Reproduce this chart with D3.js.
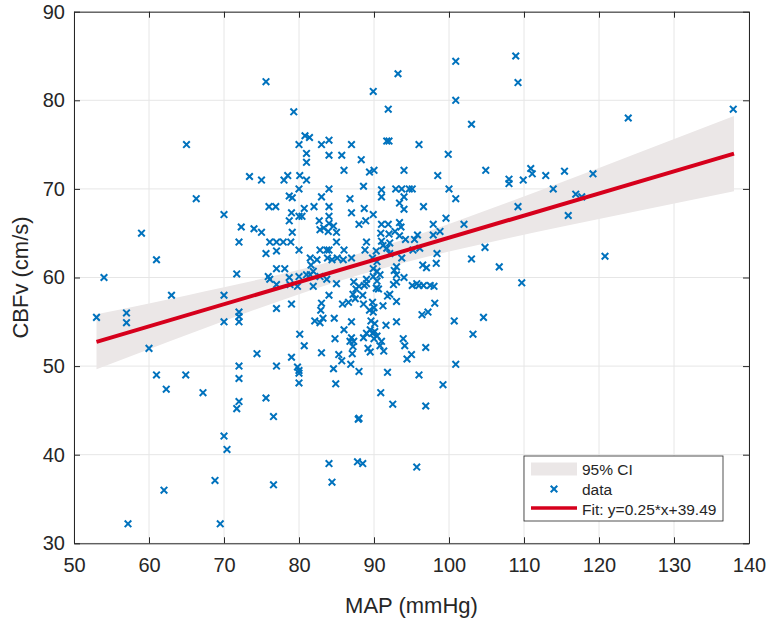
<!DOCTYPE html>
<html><head><meta charset="utf-8">
<script src="https://cdn.jsdelivr.net/npm/d3@7"></script>
<style>
body{margin:0;background:#fff;}
text{font-family:"Liberation Sans",Arial,Helvetica,sans-serif;fill:#262626;}
</style>
</head><body>
<svg id="chart" width="771" height="626"></svg>
<script>
// ---------- data ----------
const mapValues = [
100.9,93.2,108.9,75.6,89.9,100.9,79.3,91.9,103.0,80.8,81.4,80.0,83.0,84.0,87.0,91.7,92.0,96.0,81.0,81.0,
84.0,85.7,88.3,99.9,73.4,75.0,78.0,78.5,80.1,81.0,86.0,89.4,90.0,94.0,98.5,104.9,80.0,84.0,88.6,91.0,
91.0,92.9,93.7,94.7,95.1,100.0,78.7,79.1,83.0,86.8,94.0,100.9,76.0,76.9,80.7,82.0,84.0,88.7,93.4,94.0,
96.6,70.0,79.0,80.0,80.4,84.0,87.0,89.9,99.6,65.0,66.3,109.2,123.9,137.9,108.0,108.0,109.9,110.9,111.1,112.9,
113.9,115.4,116.9,117.7,119.2,78.7,82.7,84.0,88.0,88.9,91.0,91.9,93.4,93.6,97.9,102.0,72.3,74.0,75.0,79.1,
82.8,83.3,83.9,84.6,85.0,90.9,92.0,92.8,93.4,94.2,95.4,95.8,97.9,98.8,72.0,76.1,77.0,77.9,78.9,85.0,
89.0,91.0,91.2,92.1,91.7,104.8,75.6,77.0,80.0,82.8,83.7,84.0,86.0,88.8,90.3,92.1,95.2,96.1,98.4,81.5,
82.4,83.8,84.4,85.1,85.9,87.0,89.8,90.4,93.7,98.3,103.0,81.6,77.0,78.1,93.0,96.5,97.0,106.7,71.7,81.9,
81.5,89.9,90.4,90.8,92.7,93.0,75.9,76.1,78.7,80.0,81.0,82.8,83.7,89.0,89.9,94.0,77.0,78.8,79.8,81.9,
85.0,87.3,88.0,88.7,89.0,90.4,90.3,92.6,93.0,95.1,95.7,96.0,96.6,97.5,98.0,70.0,84.0,87.2,88.5,87.6,
90.6,92.1,91.8,83.0,85.8,86.6,87.5,88.6,89.8,90.0,91.2,93.0,98.1,77.0,79.0,82.9,89.9,89.4,96.4,97.2,
72.0,72.0,72.0,70.0,82.1,82.8,83.2,84.7,87.0,89.6,90.1,91.6,93.0,100.7,104.6,86.0,89.0,89.5,89.8,90.1,
90.4,80.1,84.8,86.8,87.3,87.0,88.6,90.0,91.0,93.9,103.2,80.7,83.0,85.3,87.2,89.2,89.5,90.8,91.3,94.1,
96.9,74.4,59.0,61.0,54.0,53.0,57.0,57.0,63.0,60.0,61.0,64.9,62.3,109.2,115.9,109.7,120.8,79.0,85.7,87.1,
94.4,95.0,72.0,77.0,79.8,80.0,80.0,80.0,84.6,86.9,88.0,91.8,96.0,100.9,72.0,84.9,99.2,67.2,90.9,75.6,
72.0,71.7,92.5,96.9,76.6,88.0,87.9,70.0,70.4,84.0,87.8,88.5,95.7,68.8,76.6,84.4,62.0,57.2,69.5
];
const cbfvValues = [
84.4,83.0,85.0,82.1,81.0,80.0,78.7,79.0,77.3,76.0,75.8,75.0,75.0,75.5,75.0,75.4,75.4,75.0,74.0,73.0,
73.8,73.8,73.3,73.9,71.4,71.0,71.0,71.5,71.5,71.0,72.1,71.9,72.1,72.1,71.5,72.1,70.0,70.0,70.3,69.9,
69.1,70.0,70.0,70.0,70.0,70.0,69.2,69.0,69.1,68.9,69.1,68.9,68.0,68.0,67.8,68.0,68.0,67.8,68.4,67.7,
68.0,67.1,67.3,66.9,66.9,66.9,67.3,67.1,66.7,75.0,68.9,82.0,78.0,79.0,71.1,70.6,71.0,72.3,71.7,71.5,
70.0,72.0,69.4,69.1,71.7,66.4,66.4,66.1,66.0,66.4,66.0,66.0,66.2,65.7,66.0,66.0,65.7,65.5,65.1,65.1,
65.4,65.6,65.2,65.8,65.1,65.0,64.9,65.2,64.7,64.3,64.3,64.8,64.8,65.2,64.0,64.0,64.0,64.0,64.0,64.0,
64.0,64.1,63.6,63.9,63.3,63.4,62.7,63.0,63.1,63.1,63.1,63.1,63.1,63.1,63.0,62.7,63.1,63.3,62.7,62.2,
62.0,62.2,62.0,62.2,62.0,62.2,62.2,61.8,62.2,61.6,62.1,61.4,61.0,61.0,61.2,61.4,61.1,61.2,60.4,60.7,
60.3,61.0,60.7,60.3,60.8,60.3,60.1,59.8,60.0,60.1,60.3,60.1,59.8,59.8,60.1,60.0,59.2,59.2,59.0,59.0,
59.3,59.5,59.0,59.1,59.3,59.6,58.8,59.2,59.5,59.1,59.3,59.1,59.1,59.1,59.0,58.0,58.0,58.1,58.0,58.7,
58.7,58.1,57.9,57.1,57.0,57.2,57.6,57.0,57.2,56.6,56.8,57.3,57.1,56.5,57.0,56.3,56.1,56.3,55.8,56.1,
56.1,55.6,55.0,55.0,55.1,54.9,55.4,55.4,55.0,55.1,54.8,54.6,55.0,55.1,55.5,54.1,53.7,54.1,53.7,53.9,
53.4,53.6,53.1,52.8,52.8,53.2,53.2,53.1,52.8,53.1,53.6,52.3,51.5,51.3,52.2,52.0,51.6,52.3,51.7,52.3,
52.1,51.4,65.0,62.0,60.0,55.5,56.0,54.9,58.0,52.0,49.0,49.0,47.4,68.0,67.0,59.4,62.4,51.0,50.6,51.4,
50.8,51.3,50.0,50.0,49.9,49.5,49.2,48.1,49.7,50.2,49.4,49.3,49.0,50.2,48.6,48.0,47.9,47.0,47.0,46.4,
46.0,45.2,45.7,45.5,44.3,44.1,44.0,42.1,40.6,39.0,39.2,39.0,38.6,37.1,36.6,36.9,36.0,32.2,32.2
];
const xTicks = [50,60,70,80,90,100,110,120,130,140];
const yTicks = [30,40,50,60,70,80,90];
// 95% confidence band, read at several MAP positions
const ciX     = [53, 60, 65, 70, 78, 88, 95, 100, 108, 115, 125, 138];
const ciLower = [49.64,51.91,53.51,55.09,57.53,60.28,61.90,62.93,64.46,65.73,67.49,69.74];
const ciUpper = [55.84,57.07,57.97,58.89,60.45,62.70,64.58,66.05,68.52,70.75,73.99,78.24];
// fitted line (from legend): y = 0.25*x + 39.49, drawn over the data range
const fitX = [53, 138];
const fitSlope = 0.25, fitIntercept = 39.49;
const legendLabels = ["95% CI", "data", "Fit: y=0.25*x+39.49"];
const xLabel = "MAP (mmHg)", yLabel = "CBFv (cm/s)";

// ---------- drawing ----------
const W = 771, H = 626;
const svg = d3.select("#chart");
svg.append("rect").attr("width", W).attr("height", H).attr("fill", "#ffffff");

const x = d3.scaleLinear().domain([50, 140]).range([74, 749]);
const y = d3.scaleLinear().domain([30, 90]).range([543.3, 11.7]);
const [x0, x1] = x.range(), [y0, y1] = y.range();

const axisColor = "#262626";
const gridColor = "#e6e6e6";

// grid
const grid = svg.append("g");
grid.selectAll("line.vx").data(xTicks).join("line")
  .attr("x1", d => x(d)).attr("x2", d => x(d)).attr("y1", y1).attr("y2", y0)
  .attr("stroke", gridColor).attr("stroke-width", 1);
grid.selectAll("line.hy").data(yTicks).join("line")
  .attr("y1", d => y(d)).attr("y2", d => y(d)).attr("x1", x0).attr("x2", x1)
  .attr("stroke", gridColor).attr("stroke-width", 1);

// CI band
const ciData = ciX.map((v, i) => ({x: v, lo: ciLower[i], hi: ciUpper[i]}));
svg.append("path").datum(ciData)
  .attr("d", d3.area().x(d => x(d.x)).y0(d => y(d.lo)).y1(d => y(d.hi)).curve(d3.curveMonotoneX))
  .attr("fill", "#ebe7e7");

// data points
const pts = mapValues.map((v, i) => ({x: v, y: cbfvValues[i]}));
const mk = 3.3;
svg.append("g").selectAll("path").data(pts).join("path")
  .attr("transform", d => `translate(${x(d.x)},${y(d.y)})`)
  .attr("d", `M${-mk},${-mk}L${mk},${mk}M${-mk},${mk}L${mk},${-mk}`)
  .attr("stroke", "#0072bd").attr("stroke-width", 2).attr("fill", "none");

// fit line
svg.append("path").datum(fitX.map(v => ({x: v, y: fitSlope * v + fitIntercept})))
  .attr("d", d3.line().x(d => x(d.x)).y(d => y(d.y)))
  .attr("stroke", "#d6001c").attr("stroke-width", 4).attr("fill", "none");

// axes
const fs = 20;
const gx = svg.append("g").attr("transform", `translate(0,${y0})`)
  .call(d3.axisBottom(x).tickValues(xTicks).tickSizeInner(-6).tickSizeOuter(0).tickPadding(15));
const gy = svg.append("g").attr("transform", `translate(${x0},0)`)
  .call(d3.axisLeft(y).tickValues(yTicks).tickSizeInner(-6).tickSizeOuter(0).tickPadding(9));
const gt = svg.append("g").attr("transform", `translate(0,${y1})`)
  .call(d3.axisTop(x).tickValues(xTicks).tickSizeInner(-6).tickSizeOuter(0).tickFormat(""));
const gr = svg.append("g").attr("transform", `translate(${x1},0)`)
  .call(d3.axisRight(y).tickValues(yTicks).tickSizeInner(-6).tickSizeOuter(0).tickFormat(""));
[gx, gy, gt, gr].forEach(g => {
  g.select(".domain").attr("stroke", axisColor).attr("stroke-width", 1);
  g.selectAll(".tick line").attr("stroke", axisColor).attr("stroke-width", 1);
  g.selectAll(".tick text").attr("fill", axisColor).attr("font-size", fs)
    .attr("font-family", '"Liberation Sans",Arial,Helvetica,sans-serif');
});

// axis labels
svg.append("text").attr("x", (x0 + x1) / 2).attr("y", 613).attr("text-anchor", "middle")
  .attr("font-size", 22).text(xLabel);
svg.append("text").attr("transform", `translate(28,${(y0 + y1) / 2}) rotate(-90)`)
  .attr("text-anchor", "middle").attr("font-size", 22).text(yLabel);

// legend
const lg = svg.append("g");
lg.append("rect").attr("x", 524).attr("y", 456).attr("width", 199).attr("height", 65)
  .attr("fill", "#ffffff").attr("stroke", axisColor).attr("stroke-width", 0.8);
const rowY = [469, 489, 509];
lg.append("rect").attr("x", 531).attr("y", rowY[0] - 6.5).attr("width", 46).attr("height", 13).attr("fill", "#ebe7e7");
lg.append("path").attr("transform", `translate(554,${rowY[1]})`)
  .attr("d", `M${-mk},${-mk}L${mk},${mk}M${-mk},${mk}L${mk},${-mk}`)
  .attr("stroke", "#0072bd").attr("stroke-width", 2);
lg.append("line").attr("x1", 531).attr("x2", 577).attr("y1", rowY[2] - 1).attr("y2", rowY[2] - 1)
  .attr("stroke", "#d6001c").attr("stroke-width", 3.5);
lg.selectAll("text").data(legendLabels).join("text")
  .attr("x", 582).attr("y", (d, i) => rowY[i] + 5.5).attr("font-size", 15.5).text(d => d);
</script>
</body></html>
